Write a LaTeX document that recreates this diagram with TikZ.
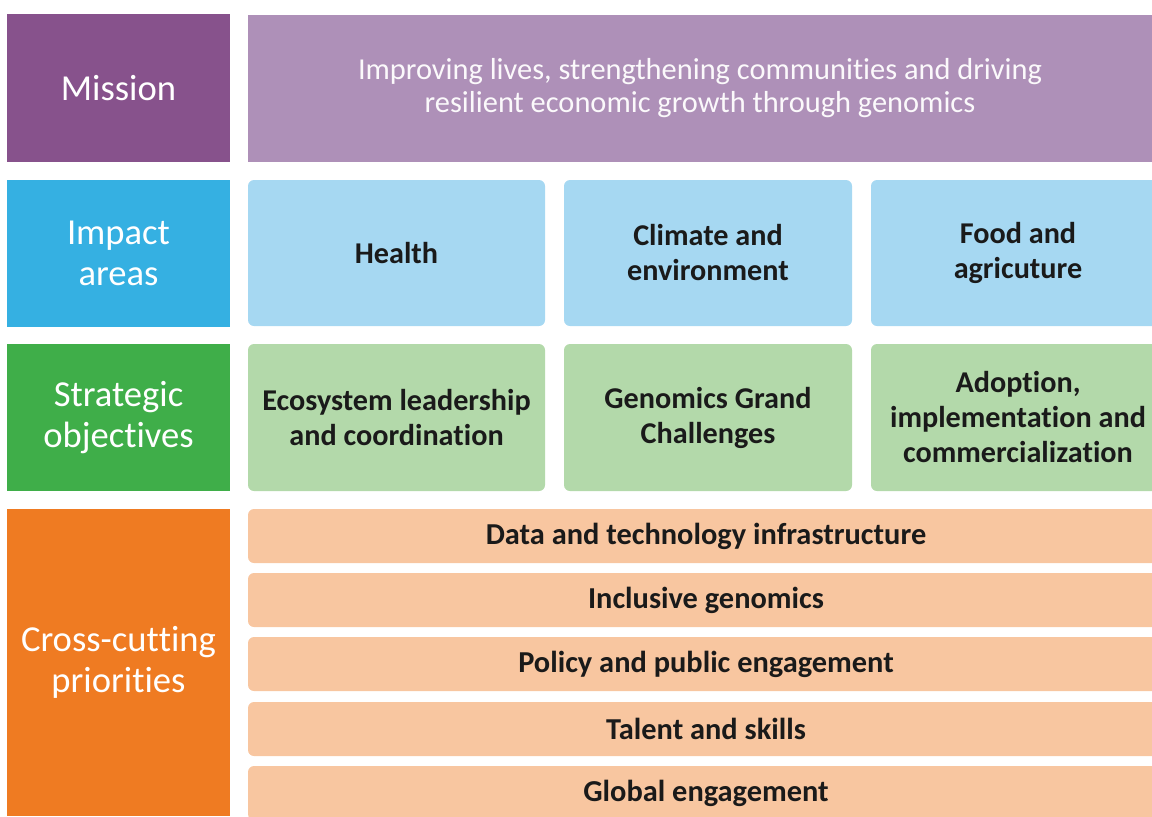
\documentclass[tikz,border=0pt]{standalone}
\usepackage{fontspec}
\setmainfont[Ligatures={NoCommon,NoContextual,NoRare},Contextuals={NoAlternate}]{Carlito}
% keep "t" and "i" as separate glyphs (Carlito joins them otherwise)
\newcommand\tsep{t\kern0pt i}
\newcommand\ttsep{t\kern0pt t\kern0pt i}
\definecolor{missionDark}{HTML}{87528C}
\definecolor{missionLight}{HTML}{AE90B8}
\definecolor{impactDark}{HTML}{35B0E2}
\definecolor{impactLight}{HTML}{A6D8F2}
\definecolor{stratDark}{HTML}{3FAE49}
\definecolor{stratLight}{HTML}{B3D9AA}
\definecolor{crossDark}{HTML}{EF7B22}
\definecolor{crossLight}{HTML}{F8C6A0}
\definecolor{inkDark}{HTML}{1A1A1A}
\begin{document}
\begin{tikzpicture}[x=0.5pt,y=-0.5pt,
  rowlabel/.style={inner sep=0pt, outer sep=0pt, text=white, align=center,
    minimum width=111.5pt, font=\fontsize{18.3}{20.5}\selectfont},
  cell/.style={inner sep=0pt, outer sep=0pt, rounded corners=3pt, text=inkDark,
    align=center, font=\bfseries\fontsize{15.1}{17.5}\selectfont},
  bar/.style={cell, minimum width=458pt, minimum height=27pt,
    fill=crossLight, font=\bfseries\fontsize{15.2}{16}\selectfont}]
\useasboundingbox (0,0) rectangle (1152,816);
\clip (0,0) rectangle (1152,816);

% row labels
\node[rowlabel, fill=missionDark, minimum height=74pt] (mission) at (118.5,88) {Mission};
\node[rowlabel, fill=impactDark, minimum height=73.5pt] (impact) at (118.5,253.5) {Impact\\areas};
\node[rowlabel, fill=stratDark, minimum height=73.5pt] (strategic) at (118.5,417.5) {Strategic\\objec\tsep ves};
\node[rowlabel, fill=crossDark, minimum height=153.5pt] (cross) at (118.5,662.5) {Cross-cu\ttsep ng\\priori\tsep es};

% mission statement
\node[inner sep=0pt, fill=missionLight, minimum width=452pt, minimum height=73.5pt,
  text=white!95!missionLight, align=center, font=\fontsize{15.2}{16.5}\selectfont]
  (statement) at (700,88.5) {Improving lives, strengthening communi\tsep es and driving\\resilient economic growth through genomics};

% impact areas
\node[cell, fill=impactLight, minimum width=148.5pt, minimum height=73pt] (health) at (396.5,253) {Health};
\node[cell, fill=impactLight, minimum width=144pt, minimum height=73pt] (climate) at (708,253) {Climate and\\environment};
\node[cell, fill=impactLight, minimum width=147pt, minimum height=73pt] (food) at (1018,253) {Food and\\agricuture};

% strategic objectives
\node[cell, fill=stratLight, minimum width=148.5pt, minimum height=73.5pt] (ecosystem) at (396.5,417.5) {Ecosystem leadership\\and coordina\tsep on};
\node[cell, fill=stratLight, minimum width=144pt, minimum height=73.5pt] (grand) at (708,417.5) {Genomics Grand\\Challenges};
\node[cell, fill=stratLight, minimum width=147pt, minimum height=73.5pt] (adoption) at (1018,417.5) {Adop\tsep on,\\implementa\tsep on and\\commercializa\tsep on};

% cross-cutting priorities
\node[bar] (data) at (706,536) {Data and technology infrastructure};
\node[bar] (inclusive) at (706,600) {Inclusive genomics};
\node[bar] (policy) at (706,664) {Policy and public engagement};
\node[bar] (talent) at (706,729) {Talent and skills};
\node[bar] (global) at (706,793) {Global engagement};
\end{tikzpicture}
\end{document}
